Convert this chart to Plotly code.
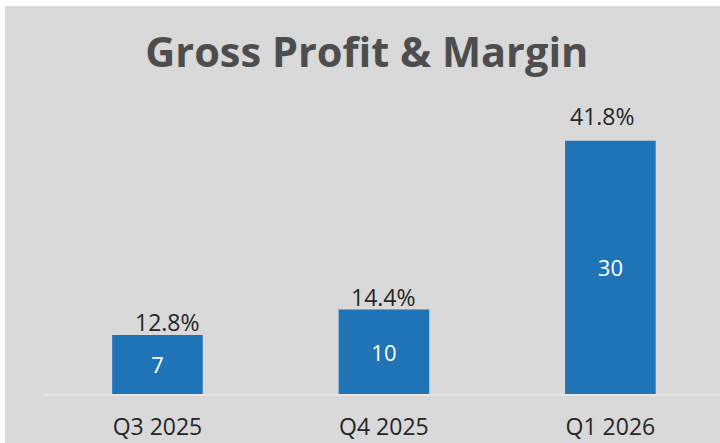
import plotly.graph_objects as go

categories = ["Q3 2025", "Q4 2025", "Q1 2026"]
gross_profit = [7, 10, 30]
margin_labels = ["12.8%", "14.4%", "41.8%"]
# manual nudges of the margin labels (pixels), as in the original chart
label_xshift = [10, 0, -8]
label_yshift = [0, 0, 12]

W, H = 715, 437
BG = "#d9d9d9"
BAR = "#1f73b7"
TXT = "#262626"

fig = go.Figure()
fig.add_trace(go.Bar(
    x=categories, y=gross_profit,
    marker=dict(color=BAR, line=dict(width=0)),
    width=0.4,
    text=[str(v) for v in gross_profit],
    textposition="inside", insidetextanchor="middle",
    textfont=dict(family="Open Sans", size=22, color="white"),
    hoverinfo="skip",
))

for c, v, t, dx, dy in zip(categories, gross_profit, margin_labels, label_xshift, label_yshift):
    fig.add_annotation(x=c, y=v, text=t, showarrow=False, yanchor="bottom",
                       xshift=dx, yshift=dy - 5,
                       font=dict(family="Open Sans", size=23, color=TXT))

fig.update_layout(
    width=W, height=H,
    paper_bgcolor=BG, plot_bgcolor=BG,
    margin=dict(l=39, r=0, t=84, b=49),
    showlegend=False,
    title=dict(text="<b>Gross Profit & Margin</b>", x=0.506, xref="container",
               xanchor="center", y=1 - 46 / H, yanchor="middle",
               font=dict(family="Open Sans", size=41.5, color="#4d4d4d")),
    xaxis=dict(range=[-0.501, 2.484], showgrid=False, zeroline=False,
               showline=True, linecolor="#e6e6e6", linewidth=2,
               ticks="", ticklabelstandoff=11,
               tickfont=dict(family="Open Sans", size=23, color=TXT),
               fixedrange=True),
    yaxis=dict(range=[0, 36], visible=False, fixedrange=True),
)

fig.write_html("out.html", config={"displayModeBar": False},
               post_script="document.body.style.margin='6px 0 0 5px';document.body.style.overflow='hidden';")
